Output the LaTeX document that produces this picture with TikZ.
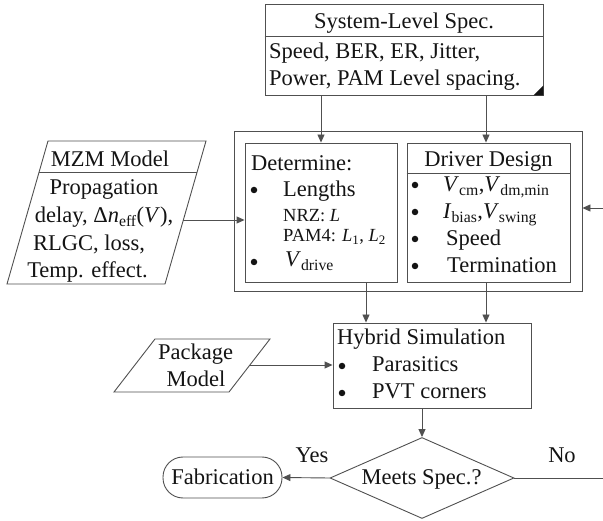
\documentclass[tikz,border=0pt]{standalone}
\usepackage{fontspec}
\setmainfont{Liberation Serif}
\usetikzlibrary{arrows.meta,shapes.geometric,calc}
\definecolor{lc}{HTML}{505050}
\definecolor{tc}{HTML}{141414}
\begin{document}
\begin{tikzpicture}[x=1pt,y=-1pt,
  line/.style={draw=lc, line width=0.9pt},
  arr/.style={line, -{Triangle[length=8pt,width=7pt]}},
  box/.style={draw=lc, line width=0.9pt, rectangle, inner sep=0pt},
  txt/.style={inner sep=0pt, text=tc, font=\fontsize{22.5}{27}\selectfont},
  sm/.style={inner sep=0pt, text=tc, font=\fontsize{18.5}{22}\selectfont},
  bul/.style={circle, fill=tc, inner sep=0pt, minimum size=6.5pt},
]
\useasboundingbox (0,0) rectangle (603,521);

% ---------- boxes ----------
\node[box, minimum width=278pt, minimum height=91pt] (spec) at (404,49.5) {};
\coordinate (specdiv) at (0,36);
\draw[line] (spec.west |- specdiv) -- (spec.east |- specdiv);
\fill[tc] (spec.south east) -- ++(-10,0) -- ++(10,-10) -- cycle;

\node[box, minimum width=348pt, minimum height=160pt] (outer) at (408,211) {};
\node[box, minimum width=152pt, minimum height=139pt] (det) at (321,212.5) {};
\node[box, minimum width=163pt, minimum height=139pt] (drv) at (488.5,212.5) {};
\coordinate (drvdiv) at (0,173);
\draw[line] (drv.west |- drvdiv) -- (drv.east |- drvdiv);

\node[box, minimum width=198pt, minimum height=85pt] (hyb) at (432,365.5) {};
\node[draw=lc, line width=0.9pt, diamond, inner sep=0pt, minimum width=184pt, minimum height=81pt] (dia) at (422,478) {};
\node[box, rounded corners=20pt, minimum width=119pt, minimum height=41pt] (fab) at (222.5,477.5) {};

% parallelograms
\draw[line] (48,141) -- (206,141) -- (165,284) -- (7,284) -- cycle;
\draw[line] (39.1,172) -- (197.1,172);
\coordinate (mzmout) at (183.3,220);
\draw[line] (155,339) -- (270,339) -- (229,392) -- (114,392) -- cycle;
\coordinate (pkgout) at (249.9,365);

% ---------- texts ----------
\node[txt, anchor=base] (spect) at (404,29) {System-Level Spec.};
\node[txt, anchor=base west] (spec1) at (269,59) {Speed, BER, ER, Jitter,};
\node[txt, anchor=base west] (spec2) at (269,86) {Power, PAM Level spacing.};

\node[txt, anchor=base west] (dett) at (251,171) {Determine:};
\node[bul] (db1) at (254,190) {};
\node[txt, anchor=base west] (det1) at (283,197) {Lengths};
\node[sm, anchor=base west] (det2) at (283,222) {NRZ: \textit{L}};
\node[sm, anchor=base west] (det3) at (283,242) {PAM4: \textit{L}\textsubscript{1}, \textit{L}\textsubscript{2}};
\node[bul] (db2) at (254,262) {};
\node[txt, anchor=base west] (det4) at (285,267) {\textit{V}\textsubscript{drive}};

\node[txt, anchor=base] (drvt) at (488.5,167) {Driver Design};
\node[bul] (vb1) at (415,185) {};
\node[bul] (vb2) at (415,212) {};
\node[bul] (vb3) at (415,239) {};
\node[bul] (vb4) at (415,266) {};
\node[txt, anchor=base west] (drv1) at (443,192) {\textit{V}\textsubscript{cm},\textit{V}\textsubscript{dm,min}};
\node[txt, anchor=base west] (drv2) at (443,219) {\textit{I}\textsubscript{bias},\textit{V}\textsubscript{swing}};
\node[txt, anchor=base west] (drv3) at (446,246) {Speed};
\node[txt, anchor=base west] (drv4) at (447,273) {Termination};

\node[txt, anchor=base west] (hybt) at (337,345) {Hybrid Simulation};
\node[bul] (hb1) at (342,366) {};
\node[bul] (hb2) at (342,393) {};
\node[txt, anchor=base west] (hyb1) at (372,372) {Parasitics};
\node[txt, anchor=base west] (hyb2) at (372,399) {PVT corners};

\node[txt, anchor=base] (mzmt) at (110,167) {MZM Model};
\node[txt, anchor=base] (mzm1) at (104,195) {Propagation};
\node[txt, anchor=base] (mzm2) at (104,223) {delay, Δ\textit{n}\textsubscript{eff}(\textit{V}),};
\node[txt, anchor=base] (mzm3) at (89,251) {RLGC, loss,};
\node[txt, anchor=base] (mzm4) at (87.5,278) {Temp. effect.};

\node[txt, anchor=base] (pkg1) at (195.5,360) {Package};
\node[txt, anchor=base] (pkg2) at (196,387) {Model};

\node[txt, anchor=base] (diat) at (421.5,485) {Meets Spec.?};
\node[txt, anchor=base] (fabt) at (222.5,485) {Fabrication};
\node[txt, anchor=base] (yes) at (312,463) {Yes};
\node[txt, anchor=base] (no) at (562,463) {No};

% ---------- connectors ----------
\coordinate (x1) at (321,0);
\coordinate (x2) at (486,0);
\coordinate (x3) at (366,0);
\draw[arr] (spec.south -| x1) -- (det.north -| x1);
\draw[arr] (spec.south -| x2) -- (drv.north -| x2);
\draw[arr] (det.south -| x3) -- (hyb.north -| x3);
\draw[arr] (drv.south -| x2) -- (hyb.north -| x2);
\draw[arr] (hyb.south -| dia.north) -- (dia.north);
\draw[arr] (dia.west) -- (fab.east);
\coordinate (noend) at (603,478);
\draw[line] (dia.east) -- (noend);
\coordinate (fbin) at (603,208);
\draw[arr] (fbin) -- (fbin -| outer.east);
\draw[arr] (mzmout) -- (mzmout -| det.west);
\draw[arr] (pkgout) -- (pkgout -| hyb.west);
\end{tikzpicture}
\end{document}
